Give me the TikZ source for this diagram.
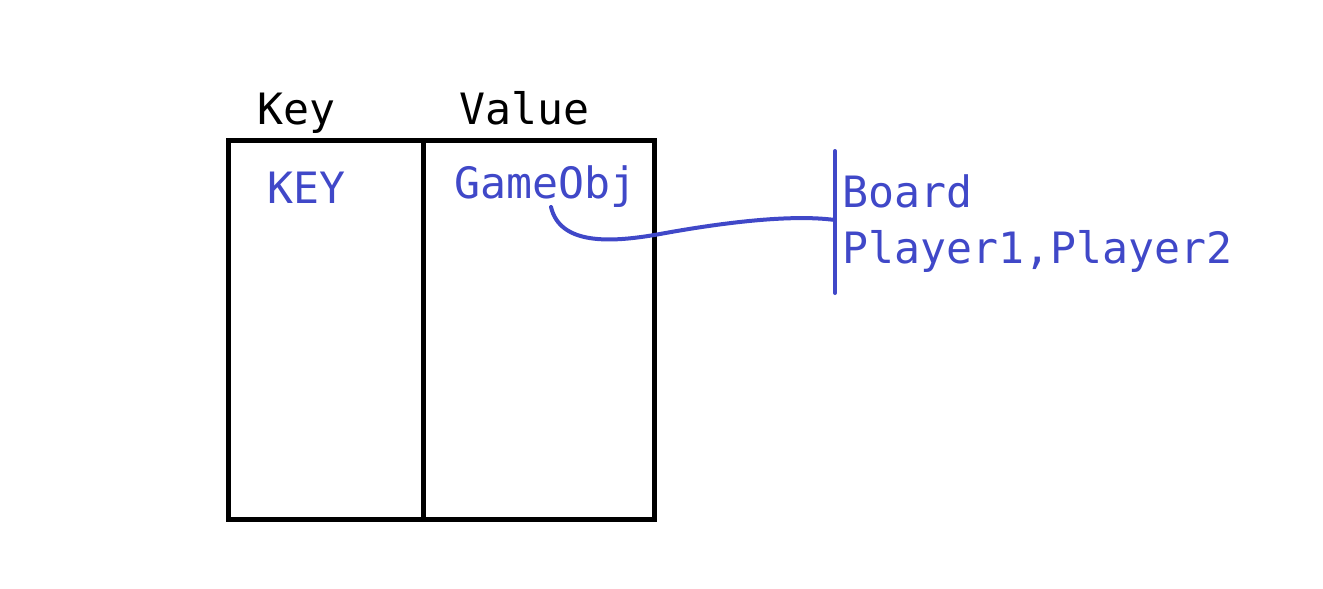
\documentclass[tikz,border=0pt]{standalone}
\usepackage{fontspec}
\setmainfont{DejaVu Sans Mono}
\definecolor{inkblue}{RGB}{64,72,200}
\begin{document}
\begin{tikzpicture}[x=1pt,y=-1pt,
  lbl/.style={anchor=base west,inner sep=0pt,font=\fontsize{43.2}{50}\selectfont},
  bluelbl/.style={lbl,text=inkblue},
  boxline/.style={draw=black,line width=5pt},
  blueline/.style={draw=inkblue,line width=4pt,line cap=round}]
\useasboundingbox (0,0) rectangle (1323,589);
% table
\draw[boxline] (228,140) rectangle (654,519);
\coordinate (divtop) at (423,140);
\coordinate (divbot) at (423,519);
\draw[boxline] (divtop) -- (divbot);
\node[lbl] (key) at (257,124) {Key};
\node[lbl] (value) at (459,124) {Value};
\node[bluelbl] (keyv) at (267,203) {KEY};
\node[bluelbl] (gobj) at (454,198) {GameObj};
% right side
\coordinate (bartop) at (835,151);
\coordinate (barbot) at (835,293);
\draw[blueline] (bartop) -- (barbot);
\node[bluelbl] (board) at (842,207) {Board};
\node[bluelbl] (players) at (842,263) {Player1,Player2};
% connector
\coordinate (cstart) at (551,207);
\coordinate (cend) at (835,220);
\draw[blueline] (cstart) .. controls (560,245) and (610,243) .. (660,234)
  .. controls (720,223) and (790,214) .. (cend);
\end{tikzpicture}
\end{document}
